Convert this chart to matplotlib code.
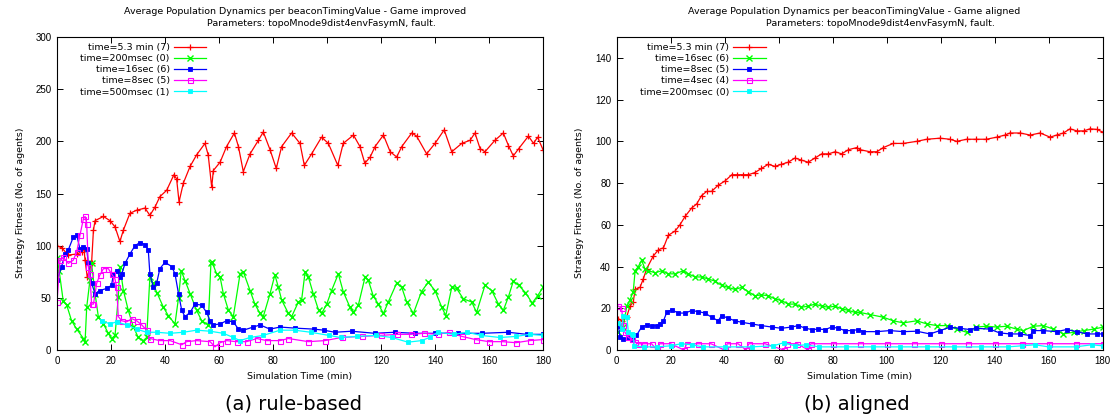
import matplotlib
matplotlib.use("Agg")
import matplotlib.pyplot as plt
from matplotlib import font_manager

# --- rule-based run ("Game improved") ---
imp_red_t = [0, 1.7, 4.2, 7.3, 9.1, 10, 10.4, 11.2, 12.8, 13.5, 14.1, 17.2, 19.6, 21.5, 23.3, 24.6, 27, 29.5,
             32.6, 34.4, 36.3, 38.1, 40.6, 43.3, 44.3, 45.2, 46.8, 49.3, 51.7, 54.8, 56, 57.3, 57.9, 60.4, 62.8,
             65.7, 67.2, 69, 71.5, 74.6, 76.4, 78.9, 81.2, 83.2, 86.9, 90, 91.6, 94.3, 98, 100.5, 104, 106, 109.8,
             112.2, 114, 116, 117.8, 120.9, 123.4, 125.8, 127.7, 131.4, 133.2, 136.9, 140, 143.4, 146.2, 149.9,
             153, 154.8, 156.7, 158.5, 162.2, 165.3, 167.2, 169, 171, 174.6, 176.5, 178, 180]
imp_red_v = [100, 98, 91, 92, 94, 97, 86, 70, 83, 115, 124, 128, 124, 118, 104, 115, 131, 134,
             136, 129, 137, 147, 153, 168, 164, 142, 160, 176, 187, 198, 187, 156, 172, 180, 195,
             208, 195, 171, 188, 201, 209, 192, 174, 195, 208, 198, 177, 188, 204, 198, 177, 198, 206,
             195, 179, 185, 195, 206, 190, 185, 195, 208, 205, 188, 198, 211, 190, 198,
             201, 208, 193, 190, 201, 208, 196, 186, 193, 205, 198, 204, 192]

imp_green_t = [0, 0.8, 2.3, 3.6, 5.4, 7.3, 9.8, 10.4, 11, 12.2, 12.8, 14.1, 15.3, 17.2, 19, 20.2, 21.5, 22.7,
               23.3, 24.6, 26.4, 28.3, 30.1, 32, 33.2, 34.4, 35.5, 37, 39.4, 41.2, 43.7, 45, 46, 47.5, 49.3,
               51.7, 53.6, 56, 57, 57.5, 59.1, 60.4, 61.6, 63.5, 65.3, 67.8, 69, 71.5, 73.3, 75.2, 76.4, 78.9,
               80.7, 82, 83.2, 85.7, 86.9, 89.4, 90.6, 91.9, 93.1, 94.9, 96.9, 98, 99.9, 101.7, 104.2, 106,
               108.5, 109.8, 111.6, 114.1, 115.3, 117.1, 119, 120.9, 122.7, 125.8, 127.7, 129.5, 132, 135,
               137.5, 140, 142.5, 144, 146.2, 148, 150.5, 153.6, 155.4, 158.5, 161, 163.5, 165.3, 167.2, 169,
               171, 173.5, 176, 178, 180]
imp_green_v = [88, 76, 47, 43, 28, 20, 11, 8, 41, 67, 83, 54, 32, 25, 16, 11, 14, 51,
               80, 57, 38, 22, 12, 9, 12, 70, 64, 55, 41, 33, 25, 50, 76, 66, 54,
               38, 28, 24, 83, 84, 73, 70, 54, 38, 32, 73, 75, 57, 44, 35, 32, 54,
               72, 60, 48, 35, 32, 46, 48, 75, 70, 54, 38, 35, 44, 57, 73, 56,
               41, 36, 43, 70, 67, 52, 44, 35, 46, 64, 60, 46, 35, 56,
               65, 57, 41, 33, 60, 59, 49, 46, 36, 62, 57, 44, 38, 51, 66,
               62, 55, 45, 52, 60]

imp_blue_t = [0, 1.7, 3, 4.2, 6, 7.3, 8.5, 9.8, 11, 11.6, 12.8, 14.1, 15.9, 18.4, 20.2, 20.9, 22.1, 23.3, 24,
              25.2, 27, 28.9, 30.7, 32.6, 33.8, 34.4, 35.7, 36.9, 38.1, 40, 42.5, 43.7, 45, 46.2, 47.4, 49.3,
              51.1, 53.6, 55.4, 56.7, 57.9, 60.4, 62.8, 65.3, 67.2, 69, 72.7, 75.2, 78.9, 82.6, 88, 95.2, 98.8,
              102.9, 109.1, 117.7, 125, 132.6, 140, 148.6, 157.3, 167.2, 174, 180]
imp_blue_v = [67, 80, 92, 96, 108, 110, 97, 99, 97, 83, 64, 54, 57, 59, 62, 73, 76, 70, 73,
              83, 92, 100, 103, 101, 96, 73, 60, 64, 78, 84, 80, 73, 54, 38, 32, 36,
              44, 43, 36, 28, 24, 25, 28, 27, 20, 19, 22, 24, 20, 22, 21, 20, 19,
              17, 18, 16, 17, 16, 16, 16, 16, 17, 15, 15]

imp_magenta_t = [0, 1.1, 2.3, 4.2, 6, 7.3, 8.5, 9.8, 10.4, 11, 11.6, 12.2, 12.8, 13.5, 14.7, 15.9, 17.2, 19,
                 20.2, 21.5, 22.1, 22.7, 24, 25.8, 27.7, 29.5, 31.4, 33.2, 34.4, 38.1, 41.9, 46.2, 48, 51.7,
                 56.7, 58.5, 60.4, 62.8, 66.5, 70.2, 74, 77.7, 82.6, 85.7, 93.1, 99.2, 105.4, 112.8, 120, 126,
                 131, 136, 141, 145, 150, 155, 160, 165, 170, 175, 180]
imp_magenta_v = [46, 86, 89, 83, 86, 94, 110, 126, 128, 121, 80, 73, 44, 44, 64, 72, 78, 78,
                 73, 68, 60, 32, 28, 27, 30, 28, 24, 19, 11, 9, 9, 5, 8, 9,
                 8, 3, 7, 9, 8, 8, 11, 9, 9, 11, 8, 9, 12, 13, 14, 15,
                 15, 16, 15, 17, 13, 10, 8, 8, 7, 9, 10]

imp_cyan_t = [16.5, 19.6, 22.1, 25.8, 29.5, 33.2, 36.9, 41.9, 46.8, 51.7, 56.7, 61.6, 65.3, 67.8, 71.5, 76.4,
              82.6, 88, 94, 100.7, 105, 111, 118, 124, 130, 135, 138, 141, 147, 152, 157, 164, 170, 175, 180]
imp_cyan_v = [28, 25, 27, 24, 20, 17, 17, 16, 17, 19, 18, 16, 12, 9, 12, 14,
              19, 19, 17, 14, 12, 13, 14, 12, 7.5, 9, 12, 17, 15, 17, 14, 12, 13, 15, 14]

imp_labels = ["time=5.3 min (7)", "time=200msec (0)", "time=16sec (6)", "time=8sec (5)", "time=500msec (1)"]

# --- aligned run ("Game aligned") ---
ali_red_t = [0.7, 1.9, 3.8, 5, 6.2, 6.9, 8.7, 9.9, 11.2, 13.6, 15.5, 17.4, 19.2, 21.7, 23.5, 25.4, 27.8, 29.7,
             31.5, 33.4, 35.2, 37.7, 40.2, 42.7, 44.5, 47, 48.8, 51.2, 53.7, 56.2, 58.7, 61.1, 63.6, 66.1, 68.5,
             71, 73.5, 76, 78.5, 81, 83.4, 85.9, 89, 90.2, 93.9, 96.4, 98.8, 102.5, 106.2, 111.2, 114.9, 119.8,
             123.5, 126, 129.7, 133.3, 137, 140.8, 143.9, 145.7, 149.5, 153.2, 156.9, 160.6, 163, 165.5, 168,
             170.5, 173, 175.4, 177.9, 180]
ali_red_v = [15, 14, 16, 21, 23, 29, 30, 34, 39, 45, 48, 49, 55, 57, 60, 64, 68, 70,
             74, 76, 76, 79, 81, 84, 84, 84, 84, 85, 87, 89, 88, 89, 90, 92, 91,
             90, 92, 94, 94, 95, 94, 96, 97, 96, 95, 95, 97, 99, 99, 100, 101, 101.5,
             101, 100, 101, 101, 101, 102, 103, 104, 104, 103, 104, 102, 103, 104, 106,
             105, 105, 106, 105.7, 104.5]

ali_green_t = [0.7, 2.5, 3.8, 5, 6.2, 6.9, 8.1, 9.3, 10.5, 11.8, 14.3, 16.8, 19.2, 21.7, 24.8, 26.6, 29.1, 31.5,
               34, 36.5, 38.9, 41.4, 43.9, 46.3, 48.8, 51.2, 53.7, 56.2, 58.7, 61.1, 63.6, 66.1, 68.5, 71, 73.5,
               76, 78.5, 81, 83.4, 85.9, 88.3, 90.2, 93.9, 98.8, 102.5, 106.2, 111.2, 114.9, 118.6, 122.3, 126,
               129.7, 133.3, 137, 140.8, 144.5, 148.2, 150.7, 154.4, 158.1, 161.8, 165.5, 169.3, 173, 176.7, 180]
ali_green_v = [8.5, 11, 21, 24, 28, 38, 40, 43, 39, 38, 37, 38, 36.5, 36.5, 38, 36.5, 35, 35,
               34, 33, 31, 30, 29, 30, 28, 26, 26.4, 26, 24.5, 23.7, 22, 22, 20.5, 21, 22,
               21, 20.5, 21, 19.7, 19, 18, 18, 17, 15.7, 14, 13, 14, 12.5, 11.7, 11.7, 10,
               8.5, 11, 11.4, 11, 11.4, 10, 9.3, 11.4, 11.7, 10, 7.7, 8.5, 9.3, 10, 10.9]

ali_blue_t = [0.7, 1.3, 2.5, 4.4, 6.2, 7.4, 9.3, 11.2, 13, 14.9, 16.1, 17.4, 18.6, 20.4, 22.9, 25.4, 27.8, 30.3,
              32.8, 35.2, 37.7, 38.9, 41.4, 43.9, 46.3, 50, 53.7, 57.5, 61.1, 64.8, 67.4, 69.8, 72.3, 74.8, 77.3,
              79.7, 82.2, 84.6, 87.1, 89.6, 91.4, 96.4, 101.3, 106.2, 111.2, 116.1, 119.8, 123.5, 127.2, 130.9,
              133.3, 138.2, 141.9, 145.7, 149.4, 153.2, 154.4, 158.1, 163, 166.7, 170.5, 174.2, 177.9, 180]
ali_blue_v = [11.7, 6, 5.3, 5.6, 5.3, 7, 11, 12, 11.4, 11.7, 12.5, 14, 18, 19.3, 17.7, 17.7, 18.9, 18.4,
              17.7, 15.7, 14, 16.5, 15.2, 14, 13.3, 12.5, 11.7, 11, 10.4, 11, 11.7, 10.5, 9.8, 10, 9.8,
              11, 10.4, 9.3, 9.3, 9.8, 8.8, 8.8, 9.3, 8.8, 9, 7.7, 9.3, 10.9, 10.4, 9.8,
              10.4, 10, 8.2, 7.7, 7.7, 6.9, 9.3, 9.3, 8.8, 9.8, 8.8, 7.7, 7.7, 7.7]

ali_magenta_t = [0.7, 1.9, 2.5, 3.1, 4.4, 5.6, 6.8, 8, 10, 13, 15, 16, 20, 25, 26, 30, 35, 40, 41, 45, 48, 49,
                 55, 62, 63, 67, 71, 72, 80, 90, 100, 110, 120, 130, 140, 150, 160, 170, 180]
ali_magenta_v = [21, 20, 12, 8.5, 6, 5.3, 3.7, 3, 3, 3, 0, 3, 3, 0, 3, 3, 3, 0, 3, 3, 0, 3,
                 3, 0, 3, 3, 0, 3, 3, 3, 3, 3, 3, 3, 3, 3, 3, 3, 3]

ali_cyan_t = [0.7, 1.9, 2.5, 3.8, 4.4, 5.6, 6.2, 6.6, 10, 15, 20, 24, 28, 32, 40, 50, 58, 62, 66, 70, 75, 85,
              95, 105, 115, 125, 135, 145, 150, 155, 160, 170, 176, 180]
ali_cyan_v = [13, 10, 16.5, 16, 8.5, 7.7, 7, 2, 1.5, 1.5, 2, 3, 2.5, 1.5, 1.5, 1.5, 2, 3.5, 2, 2.5, 1.5, 1.5,
              1.5, 1.5, 1.5, 1.5, 1.5, 1.5, 2, 2.5, 1.5, 1.5, 2.5, 2]

ali_labels = ["time=5.3 min (7)", "time=16sec (6)", "time=8sec (5)", "time=4sec (4)", "time=200msec (0)"]

x_ticks = list(range(0, 181, 20))

# gnuplot-ish line styles, one per series slot
styles = [
    dict(color="#ff0000", marker="+", ms=4.8, mew=0.9),
    dict(color="#00ff00", marker="x", ms=4.0, mew=1.0),
    dict(color="#0000ff", marker="s", ms=3.4, mew=0.6),
    dict(color="#ff00ff", marker="s", ms=3.6, mew=0.8, mfc="none"),
    dict(color="#00ffff", marker="s", ms=3.4, mew=0.6),
]

names = {f.name for f in font_manager.fontManager.ttflist}
tick_font = "Liberation Sans Narrow" if "Liberation Sans Narrow" in names else "Liberation Sans"
text_font = "DejaVu Sans"

W, H = 1115, 418


def draw_panel(ax, series, labels, ylim, yticks, title1, title2, cx):
    for (t, v), lab, st in zip(series, labels, styles):
        ax.plot(t, v, "-", lw=0.9, label=lab, **st)

    ax.set_xlim(0, 180)
    ax.set_ylim(*ylim)
    ax.set_xticks(x_ticks)
    ax.set_yticks(yticks)
    ax.tick_params(direction="in", length=4, width=0.7, top=True, right=True, pad=4,
                   labelsize=7, colors="black")
    for lbl in ax.get_xticklabels() + ax.get_yticklabels():
        lbl.set_family(tick_font)
    for sp in ax.spines.values():
        sp.set_linewidth(0.8)
        sp.set_color("black")

    ax.set_xlabel("Simulation Time (min)", fontsize=6.8, family=text_font, labelpad=5)
    ax.set_ylabel("Strategy Fitness (No. of agents)", fontsize=6.8, family=text_font)
    ax.yaxis.set_label_coords(-32 / 486, 0.47)

    ax.legend(loc="upper right", bbox_to_anchor=(149 / 486, 0.98), markerfirst=False,
              frameon=False, labelspacing=0.22, handlelength=3.4,
              handletextpad=0.45, borderpad=0, borderaxespad=0, numpoints=1,
              prop={"family": text_font, "size": 6.8})

    fig.text((cx - 5) / W, 1 - 12 / H, title1, ha="center", va="center", fontsize=6.8, family=text_font)
    fig.text((cx + 21) / W, 1 - 23 / H, title2, ha="center", va="center", fontsize=6.8, family=text_font)


fig = plt.figure(figsize=(W / 100, H / 100), dpi=100)
bottom = (H - 350) / H
height = 313 / H
ax1 = fig.add_axes([57 / W, bottom, 486 / W, height])
ax2 = fig.add_axes([616.5 / W, bottom, 486 / W, height])

draw_panel(ax1,
           [(imp_red_t, imp_red_v), (imp_green_t, imp_green_v), (imp_blue_t, imp_blue_v),
            (imp_magenta_t, imp_magenta_v), (imp_cyan_t, imp_cyan_v)],
           imp_labels, (0, 300), list(range(0, 301, 50)),
           "Average Population Dynamics per beaconTimingValue - Game improved",
           "Parameters: topoMnode9dist4envFasymN, fault.", 300)

draw_panel(ax2,
           [(ali_red_t, ali_red_v), (ali_green_t, ali_green_v), (ali_blue_t, ali_blue_v),
            (ali_magenta_t, ali_magenta_v), (ali_cyan_t, ali_cyan_v)],
           ali_labels, (0, 150), list(range(0, 141, 20)),
           "Average Population Dynamics per beaconTimingValue - Game aligned",
           "Parameters: topoMnode9dist4envFasymN, fault.", 859)

fig.text(293 / W, 1 - 404 / H, "(a) rule-based", ha="center", va="center", fontsize=14, family=text_font)
fig.text(857 / W, 1 - 404 / H, "(b) aligned", ha="center", va="center", fontsize=14, family=text_font)

fig.savefig("out.png", dpi=100)
